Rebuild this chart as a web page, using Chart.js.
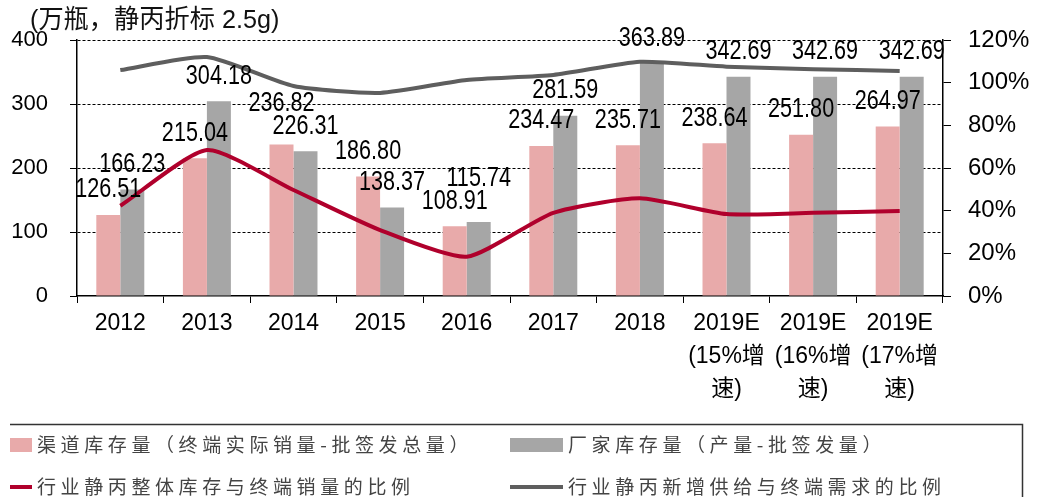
<!DOCTYPE html>
<html>
<head>
<meta charset="utf-8">
<script src="https://cdn.jsdelivr.net/npm/chart.js@4.4.1/dist/chart.umd.min.js"></script>
<style>
  html, body { margin: 0; padding: 0; background: #ffffff; }
  #wrap { width: 1040px; height: 497px; position: relative; }
</style>
</head>
<body>
<div id="wrap"><canvas id="c" width="1040" height="497"></canvas></div>
<script>
// Categories (multi-line labels for the 2019 scenarios)
const categories = [
  '2012', '2013', '2014', '2015', '2016', '2017', '2018',
  ['2019E', '(15%增', '速)'],
  ['2019E', '(16%增', '速)'],
  ['2019E', '(17%增', '速)']
];

// Inventory, 万瓶 (left axis)
const channelStock = [126.51, 215.04, 236.82, 186.80, 108.91, 234.47, 235.71, 238.64, 251.80, 264.97];
const factoryStock = [166.23, 304.18, 226.31, 138.37, 115.74, 281.59, 363.89, 342.69, 342.69, 342.69];

// Ratios (right axis)
const stockToSalesRatio = [0.423, 0.684, 0.497, 0.309, 0.184, 0.390, 0.458, 0.384, 0.390, 0.398];
const supplyToDemandRatio = [1.059, 1.120, 0.984, 0.952, 1.013, 1.036, 1.098, 1.075, 1.063, 1.055];

// Axis ticks
const leftTicks = [0, 100, 200, 300, 400];
const rightTicks = [0, 0.2, 0.4, 0.6, 0.8, 1.0, 1.2];

// Texts
const unitTitle = '(万瓶，静丙折标 2.5g)';
const seriesNames = [
  '渠道库存量（终端实际销量-批签发总量）',
  '厂家库存量（产量-批签发量）',
  '行业静丙整体库存与终端销量的比例',
  '行业静丙新增供给与终端需求的比例'
];

const COLORS = {
  channel: '#E8AAAA',
  factory: '#A6A6A6',
  redLine: '#B0002C',
  grayLine: '#5E5E5E'
};

const REGULAR = '"Liberation Sans", Arial, "Noto Sans CJK SC", sans-serif';
const CJK = '"Noto Sans CJK SC", "Noto Sans", sans-serif';

// Draw text squeezed horizontally (narrow face look)
function narrowText(ctx, text, x, y, squeeze) {
  ctx.save();
  ctx.translate(x, y);
  ctx.scale(squeeze, 1);
  ctx.fillText(text, 0, 0);
  ctx.restore();
}

// Unit caption in the top-left corner
const unitCaption = {
  id: 'unitCaption',
  afterDraw(chart) {
    const ctx = chart.ctx;
    ctx.save();
    ctx.font = '26px ' + REGULAR;
    ctx.fillStyle = '#111';
    ctx.textAlign = 'left';
    ctx.textBaseline = 'middle';
    narrowText(ctx, unitTitle, 30, 21, 0.97);
    ctx.restore();
  }
};

// Value labels above each bar; the taller bar's label moves up when two collide
const valueLabels = {
  id: 'valueLabels',
  afterDatasetsDraw(chart) {
    const ctx = chart.ctx;
    const m0 = chart.getDatasetMeta(0);
    const m1 = chart.getDatasetMeta(1);
    ctx.save();
    ctx.font = '27px ' + REGULAR;
    ctx.fillStyle = '#000';
    ctx.textAlign = 'center';
    ctx.textBaseline = 'middle';
    const gap = 25, minSep = 23;
    categories.forEach((_, i) => {
      const a = m0.data[i], b = m1.data[i];
      let ya = a.y - gap, yb = b.y - gap;
      if (Math.abs(ya - yb) < minSep) {
        if (a.y < b.y) ya = yb - minSep; else yb = ya - minSep;
      }
      narrowText(ctx, channelStock[i].toFixed(2), a.x, ya, 0.8);
      narrowText(ctx, factoryStock[i].toFixed(2), b.x, yb, 0.8);
    });
    ctx.restore();
  }
};

// Framed two-by-two legend under the axis
const boxLegend = {
  id: 'boxLegend',
  afterDraw(chart) {
    const ctx = chart.ctx;
    const ds = chart.data.datasets;
    ctx.save();
    // frame: top and right edges
    ctx.strokeStyle = '#333';
    ctx.lineWidth = 1.5;
    ctx.beginPath();
    ctx.moveTo(10, 424.5);
    ctx.lineTo(1022.5, 424.5);
    ctx.lineTo(1022.5, 497);
    ctx.stroke();

    const cols = [10, 510];
    const keyW = [22, 53];
    const rows = [445, 487];
    ctx.font = '19px ' + CJK;
    ctx.letterSpacing = '4.6px';
    ctx.textAlign = 'left';
    ctx.textBaseline = 'middle';
    ds.forEach((d, i) => {
      const col = i % 2, row = Math.floor(i / 2);
      const x = cols[col], y = rows[row], w = keyW[col];
      if (d.type === 'bar') {
        ctx.fillStyle = d.backgroundColor;
        ctx.fillRect(x, y - 7, w, 14);
      } else {
        ctx.strokeStyle = d.borderColor;
        ctx.lineWidth = 4;
        ctx.beginPath();
        ctx.moveTo(x, y);
        ctx.lineTo(x + w, y);
        ctx.stroke();
      }
      ctx.fillStyle = '#444';
      ctx.fillText(d.label, x + w + 5, y);
    });
    ctx.restore();
  }
};

const ctx = document.getElementById('c').getContext('2d');
new Chart(ctx, {
  type: 'bar',
  data: {
    labels: categories,
    datasets: [
      {
        type: 'bar', label: seriesNames[0], data: channelStock,
        backgroundColor: COLORS.channel, yAxisID: 'y', order: 2,
        barPercentage: 1, categoryPercentage: 0.554
      },
      {
        type: 'bar', label: seriesNames[1], data: factoryStock,
        backgroundColor: COLORS.factory, yAxisID: 'y', order: 2,
        barPercentage: 1, categoryPercentage: 0.554
      },
      {
        type: 'line', label: seriesNames[2], data: stockToSalesRatio,
        borderColor: COLORS.redLine, backgroundColor: COLORS.redLine,
        borderWidth: 4, pointRadius: 0, tension: 0.2, yAxisID: 'y1', order: 1
      },
      {
        type: 'line', label: seriesNames[3], data: supplyToDemandRatio,
        borderColor: COLORS.grayLine, backgroundColor: COLORS.grayLine,
        borderWidth: 4, pointRadius: 0, tension: 0.2, yAxisID: 'y1', order: 1
      }
    ]
  },
  options: {
    responsive: false,
    animation: false,
    devicePixelRatio: 1,
    layout: { padding: { top: 40, left: 0, right: 0, bottom: 0 } },
    plugins: {
      legend: { display: false },
      title: { display: false },
      tooltip: { enabled: false }
    },
    scales: {
      x: {
        grid: { offset: true, drawOnChartArea: false, drawTicks: true, tickLength: 7, color: '#000', lineWidth: 1 },
        border: { display: true, color: '#000', width: 1.5 },
        ticks: {
          color: '#000', padding: 4, maxRotation: 0, autoSkip: false,
          font: { family: REGULAR, size: 23, lineHeight: 1.43 }
        },
        afterFit(scale) { scale.height = 201; }
      },
      y: {
        position: 'left',
        min: leftTicks[0], max: leftTicks[leftTicks.length - 1],
        afterBuildTicks(scale) { scale.ticks = leftTicks.map(v => ({ value: v })); },
        ticks: { color: '#000', padding: 22, font: { family: REGULAR, size: 22 } },
        grid: {
          color: c => (c.tick && c.tick.value === 0) ? 'rgba(0,0,0,0)' : '#000',
          lineWidth: 1, drawTicks: true, tickLength: 7, tickColor: '#000', tickBorderDash: []
        },
        border: { display: true, color: '#000', width: 1.5, dash: [3, 2] },
        afterFit(scale) { scale.width = 77; }
      },
      y1: {
        position: 'right',
        min: rightTicks[0], max: rightTicks[rightTicks.length - 1],
        afterBuildTicks(scale) { scale.ticks = rightTicks.map(v => ({ value: v })); },
        ticks: {
          color: '#000', padding: 17, font: { family: REGULAR, size: 24 },
          callback: v => Math.round(v * 100) + '%'
        },
        grid: { drawOnChartArea: false, drawTicks: true, tickLength: 8, tickColor: '#000' },
        border: { display: true, color: '#000', width: 1.5 },
        afterFit(scale) { scale.width = 97; }
      }
    }
  },
  plugins: [unitCaption, valueLabels, boxLegend]
});
</script>
</body>
</html>
